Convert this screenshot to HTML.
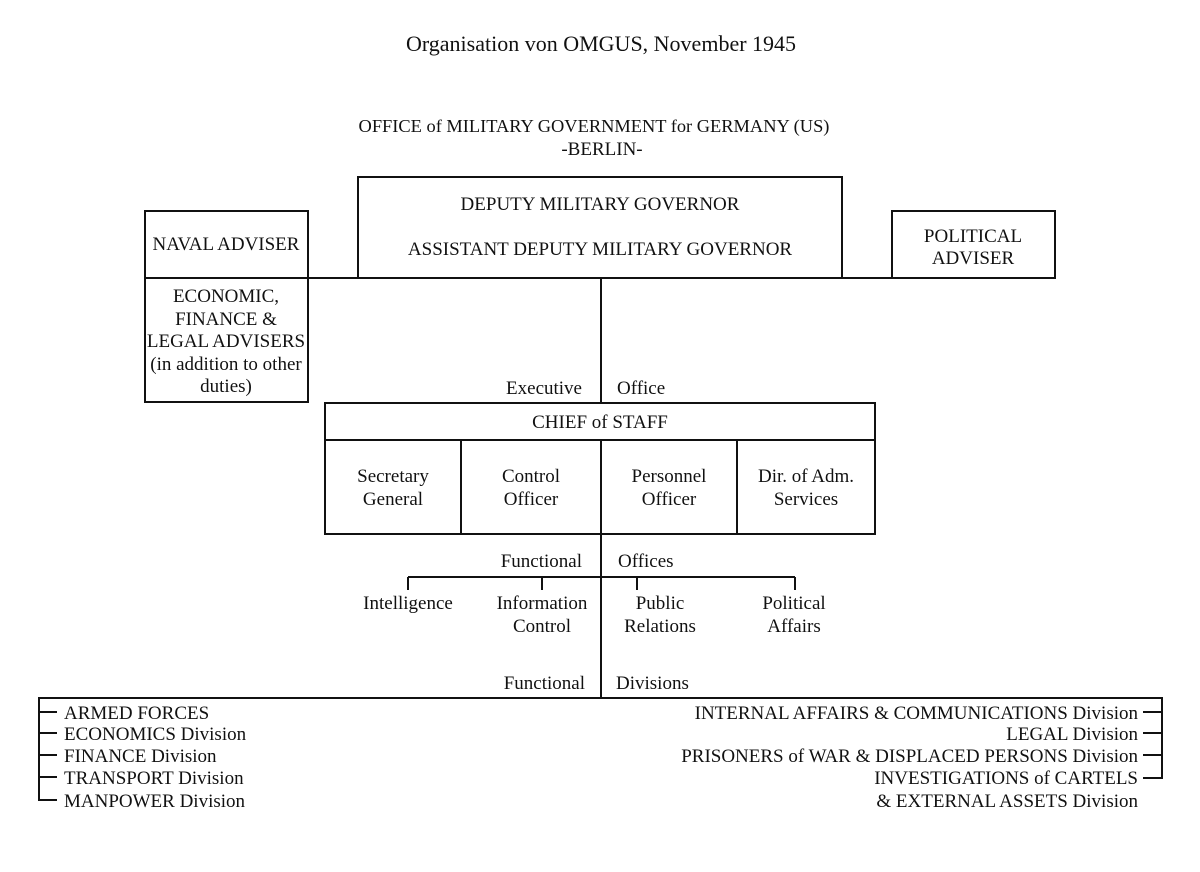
<!DOCTYPE html>
<html><head><meta charset="utf-8"><style>
body{margin:0;background:#fff}
svg text{font-family:"Liberation Serif",serif;fill:#111;font-size:19px}
</style></head><body>
<svg width="1200" height="867" viewBox="0 0 1200 867" xmlns="http://www.w3.org/2000/svg">
<g stroke="#111" stroke-width="2" fill="none">
<rect x="145" y="211" width="163" height="191"/>
<line x1="145" y1="278" x2="358" y2="278"/>
<rect x="358" y="177" width="484" height="101"/>
<rect x="892" y="211" width="163" height="67"/>
<line x1="842" y1="278" x2="892" y2="278"/>
<line x1="601" y1="278" x2="601" y2="403"/>
<rect x="325" y="403" width="550" height="131"/>
<line x1="325" y1="440" x2="875" y2="440"/>
<line x1="461" y1="440" x2="461" y2="534"/>
<line x1="601" y1="440" x2="601" y2="698"/>
<line x1="737" y1="440" x2="737" y2="534"/>
<line x1="408" y1="577" x2="795" y2="577"/>
<line x1="408" y1="577" x2="408" y2="590"/>
<line x1="542" y1="577" x2="542" y2="590"/>
<line x1="637" y1="577" x2="637" y2="590"/>
<line x1="795" y1="577" x2="795" y2="590"/>
<line x1="38" y1="698" x2="1163" y2="698"/>
<line x1="39" y1="697" x2="39" y2="801"/>
<line x1="39" y1="712" x2="57" y2="712"/>
<line x1="39" y1="733" x2="57" y2="733"/>
<line x1="39" y1="755" x2="57" y2="755"/>
<line x1="39" y1="777" x2="57" y2="777"/>
<line x1="39" y1="800" x2="57" y2="800"/>
<line x1="1162" y1="697" x2="1162" y2="779"/>
<line x1="1143" y1="712" x2="1162" y2="712"/>
<line x1="1143" y1="733" x2="1162" y2="733"/>
<line x1="1143" y1="755" x2="1162" y2="755"/>
<line x1="1143" y1="778" x2="1162" y2="778"/>
</g>
<g text-anchor="middle">
<text x="601" y="51" style="font-size:22px">Organisation von OMGUS, November 1945</text>
<text x="594" y="132" style="font-size:18.4px">OFFICE of MILITARY GOVERNMENT for GERMANY (US)</text>
<text x="602" y="155">-BERLIN-</text>
<text x="600" y="210">DEPUTY MILITARY GOVERNOR</text>
<text x="600" y="255">ASSISTANT DEPUTY MILITARY GOVERNOR</text>
<text x="226" y="250">NAVAL ADVISER</text>
<text x="973" y="242">POLITICAL</text>
<text x="973" y="264">ADVISER</text>
<text x="226" y="302">ECONOMIC,</text>
<text x="226" y="325">FINANCE &amp;</text>
<text x="226" y="347">LEGAL ADVISERS</text>
<text x="226" y="370">(in addition to other</text>
<text x="226" y="392">duties)</text>
<text x="600" y="428">CHIEF of STAFF</text>
<text x="393" y="482">Secretary</text>
<text x="393" y="505">General</text>
<text x="531" y="482">Control</text>
<text x="531" y="505">Officer</text>
<text x="669" y="482">Personnel</text>
<text x="669" y="505">Officer</text>
<text x="806" y="482">Dir. of Adm.</text>
<text x="806" y="505">Services</text>
<text x="408" y="609">Intelligence</text>
<text x="542" y="609">Information</text>
<text x="542" y="632">Control</text>
<text x="660" y="609">Public</text>
<text x="660" y="632">Relations</text>
<text x="794" y="609">Political</text>
<text x="794" y="632">Affairs</text>
</g>
<g text-anchor="end">
<text x="582" y="394">Executive</text>
<text x="582" y="567">Functional</text>
<text x="585" y="689">Functional</text>
<text x="1138" y="719">INTERNAL AFFAIRS &amp; COMMUNICATIONS Division</text>
<text x="1138" y="740">LEGAL Division</text>
<text x="1138" y="762">PRISONERS of WAR &amp; DISPLACED PERSONS Division</text>
<text x="1138" y="784">INVESTIGATIONS of CARTELS</text>
<text x="1138" y="807">&amp; EXTERNAL ASSETS Division</text>
</g>
<text x="617" y="394">Office</text>
<text x="618" y="567">Offices</text>
<text x="616" y="689">Divisions</text>
<text x="64" y="719">ARMED FORCES</text>
<text x="64" y="740">ECONOMICS Division</text>
<text x="64" y="762">FINANCE Division</text>
<text x="64" y="784">TRANSPORT Division</text>
<text x="64" y="807">MANPOWER Division</text>
</svg>
</body></html>
